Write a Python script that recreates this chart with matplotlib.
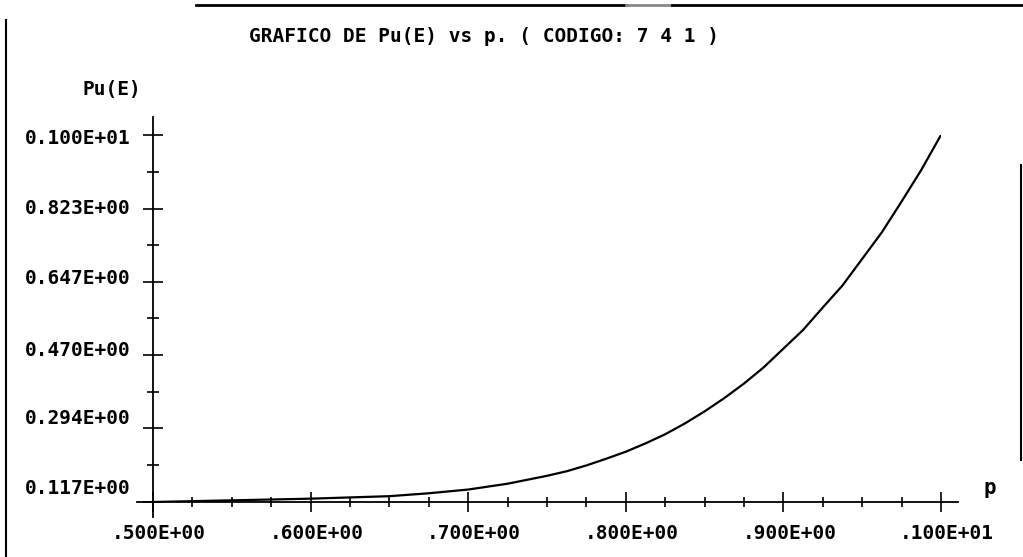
import numpy as np
import matplotlib
matplotlib.use('Agg')
import matplotlib.pyplot as plt
from matplotlib.transforms import ScaledTranslation
from matplotlib.lines import Line2D

# data
p_vals = [0.5, 0.525, 0.55, 0.575, 0.6, 0.625, 0.65, 0.675, 0.7, 0.725, 0.75,
          0.7625, 0.775, 0.7875, 0.8, 0.8125, 0.825, 0.8375, 0.85, 0.8625, 0.875,
          0.8875, 0.9, 0.9125, 0.925, 0.9375, 0.95, 0.9625, 0.975, 0.9875, 1.0]
pu_vals = [0.117, 0.119, 0.121, 0.123, 0.125, 0.128, 0.131, 0.138, 0.147, 0.161, 0.180,
           0.191, 0.205, 0.221, 0.238, 0.258, 0.280, 0.306, 0.335, 0.367, 0.402,
           0.441, 0.486, 0.531, 0.585, 0.638, 0.702, 0.766, 0.840, 0.916, 1.000]

x_ticks = [0.5, 0.6, 0.7, 0.8, 0.9, 1.0]
x_labels = ['.500E+00', '.600E+00', '.700E+00', '.800E+00', '.900E+00', '.100E+01']
y_ticks = [0.117, 0.294, 0.470, 0.647, 0.823, 1.0]
y_labels = ['0.117E+00', '0.294E+00', '0.470E+00', '0.647E+00', '0.823E+00', '0.100E+01']

font = 'DejaVu Sans Mono'
W, H = 1023, 557

fig = plt.figure(figsize=(W / 100, H / 100), dpi=100)
fig.patch.set_facecolor('white')

# axes box: x from px 153 to 941, y from px 502 (bottom) to 135 (top)
ax = fig.add_axes([153 / W, (H - 502) / H, (941 - 153) / W, (502 - 135) / H])
ax.set_xlim(0.5, 1.0)
ax.set_ylim(0.117, 1.0)
for s in ax.spines.values():
    s.set_visible(False)
ax.patch.set_alpha(0)

# axis lines (a bit longer than the data range, as in the scan)
ax.plot([-0.02, 1.022], [0, 0], transform=ax.transAxes, color='black', lw=1.3, clip_on=False)
ax.plot([0, 0], [-0.04, 1.05], transform=ax.transAxes, color='black', lw=1.3, clip_on=False)

# curve
ax.plot(p_vals, pu_vals, color='black', lw=1.6)

# ticks
ax.set_xticks(x_ticks)
ax.set_xticklabels(x_labels)
ax.set_xticks(np.arange(0.5, 1.0001, 0.025), minor=True)
ax.set_yticks(y_ticks)
ax.set_yticklabels(y_labels)
y_minor = [(a + b) / 2 for a, b in zip(y_ticks[:-1], y_ticks[1:])]
ax.set_yticks(y_minor, minor=True)

ax.tick_params(axis='both', which='major', direction='inout', length=14, width=1.2, color='black')
ax.tick_params(axis='x', which='minor', direction='inout', length=7, width=1.2)
ax.tick_params(axis='y', which='minor', direction='inout', length=8, width=1.2)
ax.tick_params(axis='x', which='major', pad=9)
ax.tick_params(axis='y', which='major', pad=9)

for lab in ax.get_xticklabels():
    lab.set_fontfamily(font)
    lab.set_fontweight('bold')
    lab.set_fontsize(14)
    lab.set_transform(lab.get_transform() + ScaledTranslation(6 / 100, 0, fig.dpi_scale_trans))

# the old plotter put the y labels slightly above their ticks
y_shift = [15, 12, 7, 5, 2, -2]
for lab, dy in zip(ax.get_yticklabels(), y_shift):
    lab.set_fontfamily(font)
    lab.set_fontweight('bold')
    lab.set_fontsize(14)
    lab.set_transform(lab.get_transform() + ScaledTranslation(0, dy / 100, fig.dpi_scale_trans))

# texts
fig.text(484 / W, 1 - 36 / H, 'GRAFICO DE Pu(E) vs p. ( CODIGO: 7 4 1 )', ha='center', va='center',
         family=font, fontweight='bold', fontsize=14)
fig.text(112 / W, 1 - 90 / H, 'Pu(E)', ha='center', va='center',
         family=font, fontweight='bold', fontsize=14)
fig.text(990 / W, 1 - 488 / H, 'p', ha='center', va='center',
         family=font, fontweight='bold', fontsize=15)

# scanned page frame
def fline(x0, y0, x1, y1, lw=1.5, c='black'):
    fig.add_artist(Line2D([x0 / W, x1 / W], [1 - y0 / H, 1 - y1 / H], transform=fig.transFigure,
                          color=c, lw=lw))

fline(6, 20, 6, 557)
fline(196, 5, 626, 5, lw=2)
fline(626, 5, 672, 5, lw=2, c='#888888')
fline(672, 5, 1023, 5, lw=2)
fline(1021, 165, 1021, 460)

fig.savefig('out.png', dpi=100)
